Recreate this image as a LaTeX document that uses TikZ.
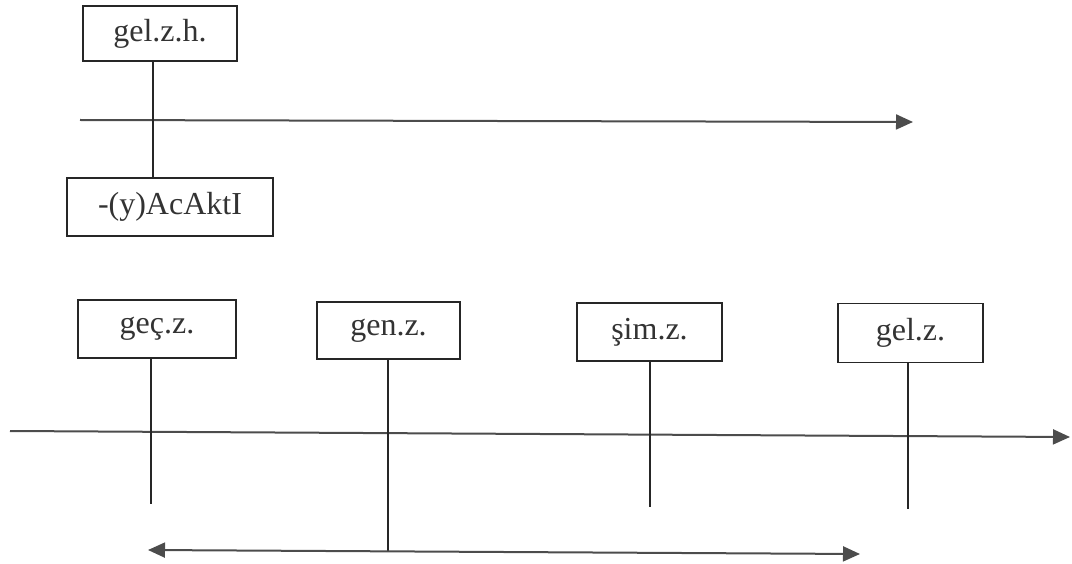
\documentclass[tikz,border=0pt]{standalone}
\usepackage{fontspec}
\setmainfont{Liberation Serif}
\usetikzlibrary{arrows.meta}
\begin{document}
\begin{tikzpicture}[x=1pt,y=-1pt,
  box/.style={draw=black!85,line width=1.2pt,inner sep=0pt,minimum width=#1,minimum height=56pt,
    font=\fontsize{32}{36}\selectfont,text=black!80},
  stem/.style={draw=black!85,line width=1.3pt},
  axis/.style={draw=black!70,line width=2pt,-{Triangle[length=17pt,width=15pt]}},
  both/.style={draw=black!70,line width=2pt,{Triangle[length=17pt,width=15pt]}-{Triangle[length=17pt,width=15pt]}}]
\useasboundingbox (0,0) rectangle (1072,564);
% top part
\node[box=154pt,minimum height=55pt] (gelzh) at (160,33.5) {gel.z.h.};
\node[box=206pt,minimum height=58pt] (suffix) at (170,207) {-(y)AcAktI};
\coordinate (topL) at (80,120);
\coordinate (topR) at (913,122);
\draw[axis] (topL) -- (topR);
\draw[stem] (gelzh.south -| 153,0) -- (suffix.north -| 153,0);
% bottom boxes
\node[box=158pt,minimum height=58pt] (gec) at (157,329) {geç.z.};
\node[box=143pt,minimum height=57pt] (gen) at (388.5,330.5) {gen.z.};
\node[box=145pt,minimum height=58pt] (sim) at (649.5,332) {şim.z.};
\node[box=145pt,minimum height=59pt] (gel) at (910.5,333) {gel.z.};
% main axis
\coordinate (axL) at (10,431);
\coordinate (axR) at (1070,437);
\draw[axis] (axL) -- (axR);
% stems
\coordinate (gecE) at (151,504);
\coordinate (genE) at (388,551);
\coordinate (simE) at (650,507);
\coordinate (gelE) at (908,509);
\draw[stem] (gec.south -| gecE) -- (gecE);
\draw[stem] (gen.south -| genE) -- (genE);
\draw[stem] (sim.south -| simE) -- (simE);
\draw[stem] (gel.south -| gelE) -- (gelE);
% double arrow
\coordinate (dL) at (148,550);
\coordinate (dR) at (860,554);
\draw[both] (dL) -- (dR);
\end{tikzpicture}
\end{document}
